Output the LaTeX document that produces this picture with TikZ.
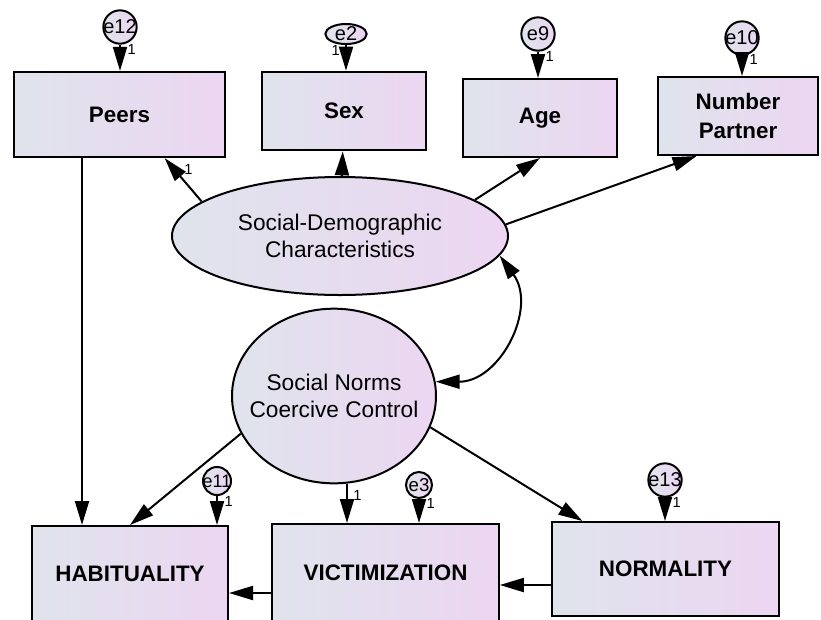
\documentclass[tikz,border=0pt]{standalone}
\usepackage{fontspec}
\setmainfont{Liberation Sans}
\usetikzlibrary{shapes.geometric,arrows.meta}
\definecolor{boxl}{RGB}{223,228,236}
\definecolor{boxr}{RGB}{236,214,241}
\newcommand{\elab}[1]{\makebox[0pt]{#1}}

\begin{document}
\begin{tikzpicture}[x=0.75pt, y=-0.75pt, ->, >={Triangle[length=18pt,width=10.5pt]}, line width=1.5pt,
  box/.style={rectangle, draw, left color=boxl, right color=boxr, align=center, font=\bfseries\fontsize{16.8}{21.5}\selectfont},
  latent/.style={ellipse, draw, left color=boxl, right color=boxr, align=center, inner sep=0pt, font=\fontsize{17}{20.5}\selectfont},
  err/.style={circle, draw, inner sep=0pt, minimum size=25pt, left color=boxl, right color=boxr, font=\fontsize{15}{15}\selectfont},
  one/.style={font=\fontsize{11}{11}\selectfont, inner sep=1pt}]
\useasboundingbox (0,0) rectangle (821,619);
\node[box, minimum width=158pt, minimum height=64pt] (peers) at (119.5,114.5) {Peers};
\node[box, minimum width=123pt, minimum height=59pt] (sex) at (344,111) {Sex};
\node[box, minimum width=115.5pt, minimum height=58.5pt] (age) at (540,118) {Age};
\node[box, minimum width=120pt, minimum height=58.5pt] (partner) at (738,116) {Number\\Partner};
\node[latent, minimum width=252pt, minimum height=88.5pt] (sdc) at (340,236) {Social-Demographic\\Characteristics};
\node[latent, inner xsep=-12pt, minimum width=153pt, minimum height=131pt] (sncc) at (334,396) {Social Norms\\Coercive Control};
\node[box, minimum width=147pt, minimum height=72pt] (hab) at (130,574) {HABITUALITY};
\node[box, minimum width=170pt, minimum height=73.5pt] (vict) at (385.5,573) {VICTIMIZATION};
\node[box, minimum width=170pt, minimum height=70.5pt] (norm) at (665.5,569) {NORMALITY};
\node[err] (e12) at (120,27) {\elab{e12}};
\node[err, ellipse, minimum width=31pt, minimum height=13.5pt] (e2) at (346,34) {\elab{e2}};
\node[err] (e9) at (538,34) {\elab{e9}};
\node[err] (e10) at (742,38) {\elab{e10}};
\node[err, minimum size=21pt, font=\fontsize{13.5}{13.5}\selectfont] (e11) at (217,481) {\elab{e11}};
\node[err, minimum size=19.5pt, font=\fontsize{14}{14}\selectfont] (e3) at (419,485) {\elab{e3}};
\node[err] (e13) at (665,480) {\elab{e13}};
\draw (e12) -- node[one, pos=0.2, right=4pt] {1} (e12 |- peers.north);
\draw (e2) -- node[one, pos=0.2, left=3pt] {1} (e2 |- sex.north);
\draw (e9) -- node[one, pos=0.2, right=4pt] {1} (e9 |- age.north);
\draw (e10) -- node[one, pos=0.2, right=4pt] {1} (e10 |- partner.north);
\draw (e11) -- node[one, pos=0.2, right=4pt] {1} (e11 |- hab.north);
\draw (e3) -- node[one, pos=0.2, right=4pt] {1} (e3 |- vict.north);
\draw (e13) -- node[one, pos=0.2, right=4pt] {1} (e13 |- norm.north);
\draw (sdc.166) -- node[one, near end, right=6pt] {1} (peers.-44);
\draw (sdc) -- (sex);
\draw (sdc.15) -- (age.south);
\draw (sdc.4) -- (partner.-136);
\draw ([xshift=-36pt]hab.north |- peers.south) -- ([xshift=-36pt]hab.north);
\draw (sncc.-158) -- (hab.north);
\draw ([xshift=9.75pt]sncc.south) -- node[one, pos=0.3, right=3pt] {1} ([xshift=9.75pt]sncc.south |- vict.north);
\draw (sncc.-18) -- (norm.150);
\draw ([yshift=-12pt]norm.west) -- ([yshift=-12pt]norm.west -| vict.east);
\draw ([yshift=-15pt]vict.west) -- ([yshift=-15pt]vict.west -| hab.east);
\draw[<->] (sdc.-7) to[out=-54, in=0, looseness=1.17] (sncc.8);
\end{tikzpicture}
\end{document}
